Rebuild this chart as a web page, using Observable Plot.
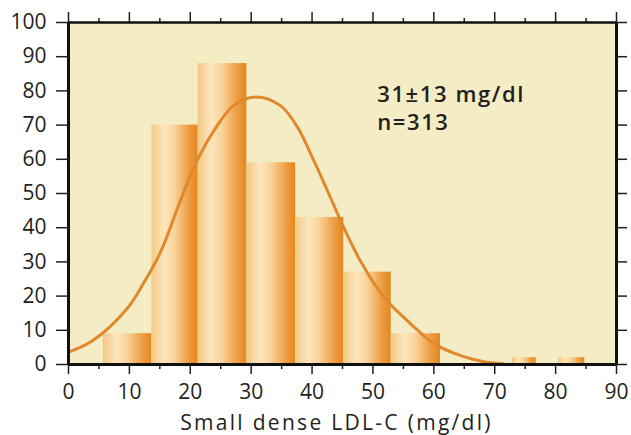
<!DOCTYPE html>
<html><head><meta charset="utf-8">
<script src="https://cdn.jsdelivr.net/npm/d3@7"></script>
<script src="https://cdn.jsdelivr.net/npm/@observablehq/plot@0.6"></script>
<style>
body{margin:0;background:#fff;}
#chart svg{display:block;}
</style>
</head><body><div id="chart"></div>
<script>
// Histogram bins (mg/dl) and counts
const binStart = [5.7, 13.7, 21.3, 29.3, 37.3, 45.2, 53.0, 72.9, 80.5];
const binEnd   = [13.7, 21.3, 29.3, 37.3, 45.2, 53.0, 61.1, 76.8, 84.8];
const counts   = [9, 70, 88, 59, 43, 27, 9, 2, 2];

// Fitted curve
const curveX = [0, 4, 9.6, 12.4, 15.1, 18.4, 21.1, 23.9, 27.1, 30.7, 34.8, 37.6, 40.3, 43, 45.2, 47.9, 51.8, 56.2, 60, 64.4, 68, 71.4];
const curveY = [3.6, 7, 16.3, 24, 32.8, 48, 59.6, 68.4, 75.7, 78.2, 75.7, 69.4, 59.6, 48.9, 40.1, 30.4, 19.7, 11.9, 6.1, 2.6, 0.9, 0.2];

const xTicks = [0, 10, 20, 30, 40, 50, 60, 70, 80, 90];
const xMinorTicks = [5, 15, 25, 35, 45, 55, 65, 75, 85];
const yTicks = [0, 10, 20, 30, 40, 50, 60, 70, 80, 90, 100];
const annotation = ["31\u00B113 mg/dl", "n=313"];
const xLabel = "Small dense LDL-C (mg/dl)";

const bars = counts.map((c, i) => ({x1: binStart[i], x2: binEnd[i], count: c}));
const curve = curveX.map((x, i) => ({x, y: curveY[i]}));

const ink = "#231f20";
const font = "'Open Sans', Lato, sans-serif";

const svg = Plot.plot({
  width: 631,
  height: 435,
  marginLeft: 68,
  marginRight: 15,
  marginTop: 22,
  marginBottom: 71,
  style: {fontFamily: font, color: ink, background: "#fff"},
  x: {domain: [0, 90]},
  y: {domain: [0, 100]},
  marks: [
    Plot.frame({fill: "#f3ecc4", stroke: "none"}),
    Plot.rectY(bars, {x1: "x1", x2: "x2", y1: 0, y2: "count", fill: "url(#barGrad)"}),
    Plot.line(curve, {x: "x", y: "y", curve: "catmull-rom", stroke: "#e0882c", strokeWidth: 3}),
    // axes
    Plot.axisY({ticks: yTicks, tickSize: 12, tickPadding: 10, fontSize: 21, strokeWidth: 1.5, label: null, tickFormat: d => d}),
    Plot.axisY({anchor: "right", ticks: yTicks, tickSize: 10, strokeWidth: 1.5, text: null, label: null}),
    Plot.axisX({ticks: xTicks, tickSize: 10, tickPadding: 10, fontSize: 21, strokeWidth: 1.5, label: null, tickFormat: d => d}),
    Plot.axisX({ticks: xMinorTicks, tickSize: 5, strokeWidth: 1.5, text: null, label: null}),
    Plot.axisX({anchor: "top", ticks: xTicks, tickSize: 11, strokeWidth: 1.5, text: null, label: null}),
    Plot.axisX({anchor: "top", ticks: xMinorTicks, tickSize: 5, strokeWidth: 1.5, text: null, label: null}),
    // frame lines
    Plot.ruleX([0], {stroke: "#111", strokeWidth: 3}),
    Plot.ruleX([90], {stroke: "#111", strokeWidth: 3}),
    Plot.ruleY([0], {stroke: "#111", strokeWidth: 3}),
    Plot.ruleY([100], {stroke: "#111", strokeWidth: 2.5}),
    // texts
    Plot.text([annotation.join("\n")], {x: 50.7, y: 68.6, text: d => d, textAnchor: "start", lineAnchor: "bottom", lineHeight: 1.25, fontSize: 22, fontWeight: 600, fill: ink}),
    Plot.text([xLabel], {frameAnchor: "bottom", text: d => d, dy: 65, dx: -6, lineAnchor: "bottom", fontSize: 21, fill: ink})
  ]
});

const sel = d3.select(svg);
sel.insert("defs", ":first-child").html(`
  <linearGradient id="barGrad" x1="0" x2="1" y1="0" y2="0">
    <stop offset="0" stop-color="#f4c885"/>
    <stop offset="0.28" stop-color="#fde6bd"/>
    <stop offset="0.5" stop-color="#f9d39a"/>
    <stop offset="0.8" stop-color="#ee9f45"/>
    <stop offset="1" stop-color="#e3861f"/>
  </linearGradient>`);
// widen the lettering toward the reference's broad typeface
sel.selectAll("text").filter(function() { return this.textContent === xLabel; }).attr("letter-spacing", 2.3);
sel.selectAll("text").filter(function() { return this.textContent.includes("n=313"); }).attr("letter-spacing", 1.6);

document.getElementById("chart").appendChild(svg);
</script>
</body></html>
